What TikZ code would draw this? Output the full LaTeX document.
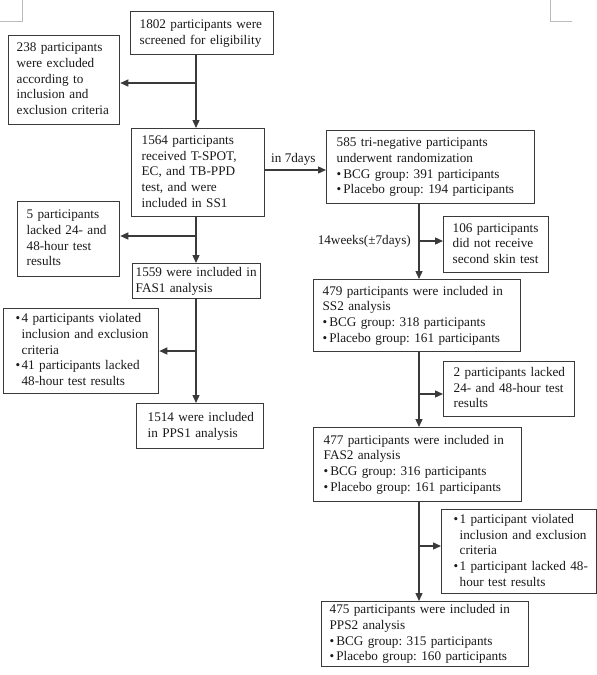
\documentclass[tikz,border=0pt]{standalone}
\usepackage{fontspec}
\setmainfont{Liberation Serif}
\usetikzlibrary{arrows.meta}
\definecolor{linec}{HTML}{3A3A3A}
\definecolor{txtc}{HTML}{1A1A1A}
\definecolor{markc}{HTML}{BBBBBB}
\frenchspacing
\newcommand{\boxlines}[1]{\begin{tabular}{@{}l@{}}#1\end{tabular}}
\newcommand{\hb}{\llap{\textbullet\hspace{1.5pt}}}
\newcommand{\ib}{\textbullet\hspace{2pt}}
\begin{document}
\begin{tikzpicture}[x=1pt,y=-1pt,
  fbox/.style={draw=linec, line width=1.3pt, anchor=north west, inner ysep=0pt, align=left, text=txtc, font=\fontsize{13.2}{15.7}\selectfont},
  conn/.style={draw=linec, line width=1.3pt},
  arr/.style={conn, -{Triangle[length=8pt,width=7pt]}},
  lbl/.style={text=txtc, font=\fontsize{13.2}{15.7}\selectfont, inner sep=0pt},
  cornermark/.style={draw=markc, line width=0.8pt}]
\fill[white] (0,0) rectangle (597,675);
\useasboundingbox (0,0) rectangle (597,675);

\draw[cornermark] (22,0) -- (22,21) -- (0,21);
\draw[cornermark] (550,0) -- (550,21) -- (572,21);

% left column
\node[fbox, inner xsep=9pt, text width=125pt, minimum height=43pt] (b1) at (130,11)
  {\boxlines{1802 participants were\\screened for eligibility}};
\node[fbox, inner xsep=8pt, text width=95pt, minimum height=89pt] (b2) at (8,35)
  {\boxlines{238 participants\\were excluded\\according to\\inclusion and\\exclusion criteria}};
\node[fbox, inner xsep=10pt, text width=113pt, minimum height=88pt] (b3) at (131,128)
  {\boxlines{1564 participants\\received T-SPOT,\\EC, and TB-PPD\\test, and were\\included in SS1}};
\node[fbox, inner xsep=9pt, text width=84pt, minimum height=75pt] (b5) at (17,201)
  {\boxlines{5 participants\\lacked 24- and\\48-hour test\\results}};
\node[fbox, inner xsep=3pt, text width=122pt, minimum height=35pt] (b6) at (132,263)
  {\boxlines{1559 were included in\\FAS1 analysis}};
\node[fbox, inner xsep=18pt, text width=119pt, minimum height=85pt] (b7) at (3,308)
  {\boxlines{\hb 4 participants violated\\inclusion and exclusion\\criteria\\\hb 41 participants lacked\\48-hour test results}};
\node[fbox, inner xsep=11pt, text width=105pt, minimum height=45pt] (b8) at (136,403)
  {\boxlines{1514 were included\\in PPS1 analysis}};

% right column
\node[fbox, inner xsep=10pt, text width=188pt, minimum height=73pt] (b4) at (326,130)
  {\boxlines{585 tri-negative participants\\underwent randomization\\\ib BCG group: 391 participants\\\ib Placebo group: 194 participants}};
\node[fbox, inner xsep=9pt, text width=87pt, minimum height=56pt] (b9) at (443,216)
  {\boxlines{106 participants\\did not receive\\second skin test}};
\node[fbox, inner xsep=9pt, text width=189pt, minimum height=72pt] (b10) at (313,279)
  {\boxlines{479 participants were included in\\SS2 analysis\\\ib BCG group: 318 participants\\\ib Placebo group: 161 participants}};
\node[fbox, inner xsep=10pt, text width=111pt, minimum height=55pt] (b11) at (443,361)
  {\boxlines{2 participants lacked\\24- and 48-hour test\\results}};
\node[fbox, inner xsep=10pt, text width=188pt, minimum height=74pt] (b12) at (313,427)
  {\boxlines{477 participants were included in\\FAS2 analysis\\\ib BCG group: 316 participants\\\ib Placebo group: 161 participants}};
\node[fbox, inner xsep=18pt, text width=119pt, minimum height=84pt] (b13) at (441,509)
  {\boxlines{\hb 1 participant violated\\inclusion and exclusion\\criteria\\\hb 1 participant lacked 48-\\hour test results}};
\node[fbox, inner xsep=8pt, text width=191pt, minimum height=65pt] (b14) at (321,601)
  {\boxlines{475 participants were included in\\PPS2 analysis\\\ib BCG group: 315 participants\\\ib Placebo group: 160 participants}};

% spines
\coordinate (sL) at (196,0);
\coordinate (sR) at (419,0);

\draw[arr] (b1.south -| sL) -- (b3.north -| sL);
\coordinate (j1) at (196,83);
\draw[arr] (j1) -- (j1 -| b2.east);
\draw[arr] (b3.south -| sL) -- (b6.north -| sL);
\coordinate (j2) at (196,236);
\draw[arr] (j2) -- (j2 -| b5.east);
\draw[arr] (b6.south -| sL) -- (b8.north -| sL);
\coordinate (j3) at (196,351);
\draw[arr] (j3) -- (j3 -| b7.east);

\coordinate (h1) at (0,170);
\draw[arr] (b3.east |- h1) -- (b4.west |- h1);
\node[lbl, anchor=base west] (l1) at (271,162) {in 7days};

\draw[arr] (b4.south -| sR) -- (b10.north -| sR);
\coordinate (j4) at (419,241);
\draw[arr] (j4) -- (j4 -| b9.west);
\node[lbl, anchor=east] (l2) at (411,241) {14weeks(±7days)};
\draw[arr] (b10.south -| sR) -- (b12.north -| sR);
\coordinate (j5) at (419,394);
\draw[arr] (j5) -- (j5 -| b11.west);
\draw[arr] (b12.south -| sR) -- (b14.north -| sR);
\coordinate (j6) at (419,546);
\draw[arr] (j6) -- (j6 -| b13.west);
\end{tikzpicture}
\end{document}
